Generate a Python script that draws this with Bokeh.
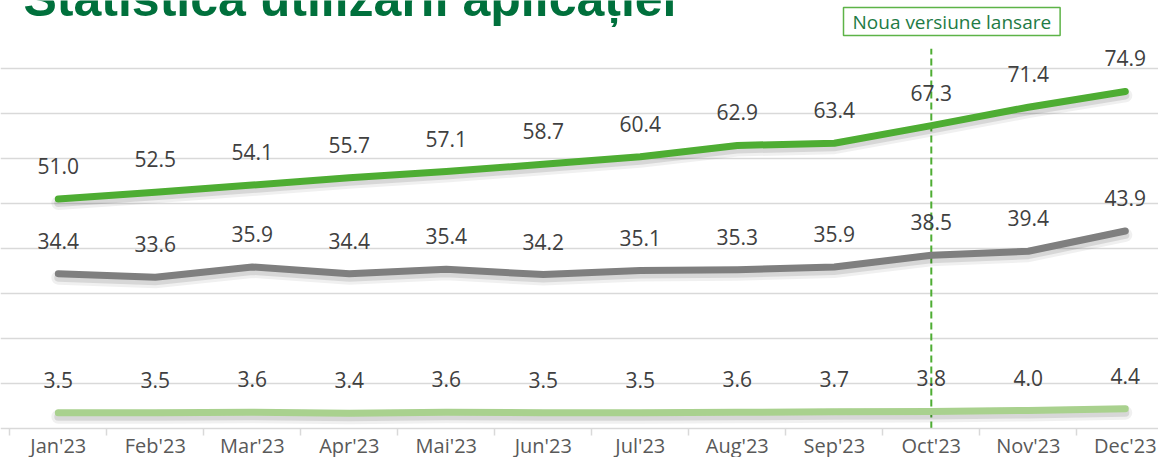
from bokeh.plotting import figure
from bokeh.models import ColumnDataSource, FixedTicker, Range1d, Label
from bokeh.transform import dodge
from bokeh.core.properties import value
from bokeh.embed import file_html
from bokeh.resources import INLINE

# ---- data ----
months = ["Jan'23", "Feb'23", "Mar'23", "Apr'23", "Mai'23", "Jun'23",
          "Jul'23", "Aug'23", "Sep'23", "Oct'23", "Nov'23", "Dec'23"]
series_top = [51.0, 52.5, 54.1, 55.7, 57.1, 58.7, 60.4, 62.9, 63.4, 67.3, 71.4, 74.9]
series_mid = [34.4, 33.6, 35.9, 34.4, 35.4, 34.2, 35.1, 35.3, 35.9, 38.5, 39.4, 43.9]
series_low = [3.5, 3.5, 3.6, 3.4, 3.6, 3.5, 3.5, 3.6, 3.7, 3.8, 4.0, 4.4]
y_ticks = [10, 20, 30, 40, 50, 60, 70, 80]
event_month = "Oct'23"
event_text = "Noua versiune lansare"
title_text = "Statistica utilizarii aplicației"

# ---- layout constants ----
W, H = 1158, 457
PX_PER_CAT = 97.0
PX_PER_UNIT = 4.5
LEFT_PAD = 9.3          # px from canvas left to the first category boundary
AXIS_Y = 428            # canvas y of the value 0

xi = list(range(len(months)))

x0 = -0.5 - LEFT_PAD / PX_PER_CAT
p = figure(width=W, height=H, output_backend="svg", toolbar_location=None,
           x_range=Range1d(x0, x0 + W / PX_PER_CAT),
           y_range=Range1d(-(H - AXIS_Y) / PX_PER_UNIT, AXIS_Y / PX_PER_UNIT),
           y_axis_location=None,
           min_border_left=0, min_border_right=0, min_border_top=0,
           min_border_bottom=0)
p.outline_line_color = None
p.background_fill_color = "white"
p.border_fill_color = "white"

# grid
p.xgrid.visible = False
p.ygrid.ticker = FixedTicker(ticks=y_ticks)
p.ygrid.grid_line_color = "#d9d9d9"
p.ygrid.grid_line_width = 1.5

# x axis, fixed at value 0 inside the frame
ax = p.xaxis[0]
ax.fixed_location = 0
ax.ticker = FixedTicker(ticks=xi, minor_ticks=[i - 0.5 for i in range(len(months) + 1)])
ax.major_label_overrides = {i: m for i, m in zip(xi, months)}
ax.major_tick_line_color = None
ax.major_tick_out = 0
ax.major_tick_in = 0
ax.minor_tick_out = 7
ax.minor_tick_in = 0
ax.minor_tick_line_color = "#d9d9d9"
ax.minor_tick_line_width = 1.5
ax.axis_line_color = "#d9d9d9"
ax.axis_line_width = 1.5
ax.major_label_standoff = -4
ax.major_label_text_font = "Open Sans"
ax.major_label_text_font_size = "20px"
ax.major_label_text_color = "#595959"

src = ColumnDataSource(dict(
    x=xi, top=series_top, mid=series_mid, low=series_low,
    top_t=[f"{v:.1f}" for v in series_top],
    mid_t=[f"{v:.1f}" for v in series_mid],
    low_t=[f"{v:.1f}" for v in series_low],
))

# event line
ev_x = months.index(event_month)
p.segment(x0=[ev_x], y0=[0], x1=[ev_x], y1=[84.4], line_color="#4EAD33",
          line_width=2, line_dash="7 4")

shadow_shift = -4 / PX_PER_UNIT
for col, color in (("low", "#A9D18E"), ("mid", "#7F7F7F"), ("top", "#4EAD33")):
    p.line(x="x", y=dodge(col, shadow_shift), source=src, line_color="black",
           line_alpha=0.06, line_width=14, line_cap="round", line_join="round")
    p.line(x="x", y=dodge(col, shadow_shift), source=src, line_color="black",
           line_alpha=0.10, line_width=8, line_cap="round", line_join="round")
    p.line(x="x", y=col, source=src, line_color=color, line_width=7,
           line_cap="round", line_join="round")
    p.text(x="x", y=col, text=col + "_t", source=src, y_offset=-33,
           text_align="center", text_baseline="middle",
           text_font=value("Open Sans"), text_font_size="21px",
           text_color="#404040")

# annotation box
p.add_layout(Label(x=843, y=H - 35, x_units="screen", y_units="screen",
                   text=event_text, text_font="Open Sans", text_font_size="19px",
                   text_color="#1E7B45", border_line_color="#5DB347",
                   border_line_width=1.5, background_fill_color="white",
                   padding=dict(left=9, right=9, top=1, bottom=1),
                   anchor="bottom_left"))

# title (cropped at the top like the reference)
p.add_layout(Label(x=23, y=H - 26, x_units="screen", y_units="screen",
                   text=title_text, text_font="Liberation Sans",
                   text_font_style="bold", text_font_size="50px",
                   text_color="#00703C", anchor="bottom_left"))

open("out.html", "w").write(file_html(p, INLINE))
